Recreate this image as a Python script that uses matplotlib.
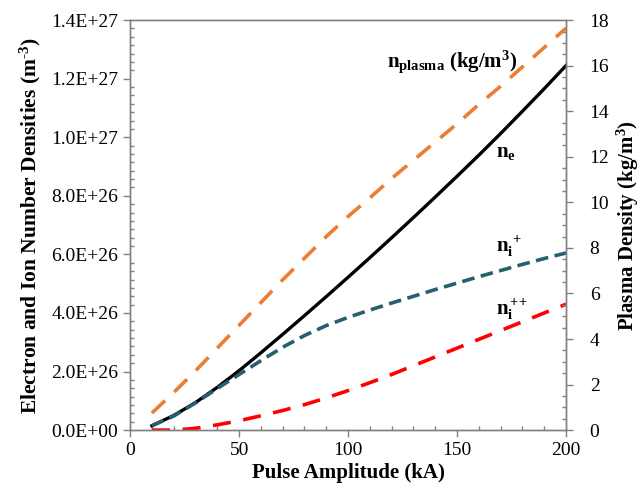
import numpy as np
from matplotlib import pyplot as plt
from matplotlib.ticker import MultipleLocator, AutoMinorLocator, FuncFormatter

plt.rcParams['font.family'] = ['Liberation Serif', 'DejaVu Serif']
plt.rcParams['mathtext.fontset'] = 'custom'
plt.rcParams['mathtext.rm'] = 'Liberation Serif:bold'
plt.rcParams['mathtext.it'] = 'Liberation Serif:bold'
plt.rcParams['mathtext.bf'] = 'Liberation Serif:bold'

# pulse amplitude (kA)
amp = [10, 20, 30, 40, 50, 60, 70, 80, 90, 100,
       110, 120, 130, 140, 150, 160, 170, 180, 190, 200]
# number densities (x1e27 m^-3)
n_e = [0.015, 0.050, 0.094, 0.146, 0.203, 0.264, 0.327, 0.391, 0.456, 0.522,
       0.589, 0.657, 0.726, 0.796, 0.867, 0.939, 1.013, 1.089, 1.166, 1.245]
n_i1 = [0.015, 0.048, 0.093, 0.142, 0.190, 0.237, 0.283, 0.323, 0.357, 0.385,
        0.410, 0.434, 0.457, 0.480, 0.502, 0.524, 0.545, 0.566, 0.586, 0.605]
n_i2 = [0.0, 0.0, 0.006, 0.018, 0.032, 0.049, 0.067, 0.087, 0.110, 0.135,
        0.162, 0.190, 0.220, 0.250, 0.280, 0.310, 0.340, 0.370, 0.400, 0.430]
# plasma density (kg/m^3)
rho = [0.75, 1.65, 2.6, 3.6, 4.6, 5.6, 6.6, 7.55, 8.5, 9.38,
       10.2, 11.05, 11.85, 12.65, 13.45, 14.3, 15.1, 15.95, 16.8, 17.65]

scale = 1e27
n_e = np.array(n_e) * scale
n_i1 = np.array(n_i1) * scale
n_i2 = np.array(n_i2) * scale

fig = plt.figure(figsize=(6.44, 4.91), dpi=100)
ax = fig.add_axes([0.202, 0.124, 0.677, 0.835])
ax2 = ax.twinx()

ax.plot(amp, n_e, color='black', lw=2.4, solid_joinstyle='round')
ax.plot(amp, n_i1, color='#25606E', lw=2.6, dashes=(3.5, 1.8))
ax.plot(amp, n_i2, color='#FF0000', lw=2.6, dashes=(5, 3.5))
ax2.plot(amp, rho, color='#ED7D31', lw=2.6, dashes=(5, 3.5))

ax.set_xlim(0, 200)
ax.set_ylim(0, 1.4e27)
ax2.set_ylim(0, 18)

ax.xaxis.set_major_locator(MultipleLocator(50))
ax.xaxis.set_minor_locator(MultipleLocator(10))
ax.yaxis.set_major_locator(MultipleLocator(2e26))
ax.yaxis.set_minor_locator(AutoMinorLocator(7))
ax.yaxis.set_major_formatter(FuncFormatter(lambda v, p: f"{v:.1E}"))
ax2.yaxis.set_major_locator(MultipleLocator(2))
ax2.yaxis.set_minor_locator(MultipleLocator(0.5))

for a in (ax, ax2):
    for s in a.spines.values():
        s.set_color('#808080')
        s.set_linewidth(1.0)
    a.tick_params(which='major', direction='out', length=5, width=1,
                  color='#808080', labelsize=14, labelcolor='black')
    a.tick_params(which='minor', direction='in', length=3, width=1,
                  color='#808080')
ax2.tick_params(axis='y', which='major', pad=12)

ax.set_xlabel('Pulse Amplitude (kA)', fontsize=15, fontweight='bold', labelpad=3)
ax.set_ylabel('Electron and Ion Number Densities (m$^{\u2010 3}$)', fontsize=15.5,
              fontweight='bold', labelpad=6)
ax2.set_ylabel(r'Plasma Density (kg/m$^{3}$)', fontsize=15, fontweight='bold',
               labelpad=4)

# curve labels
ax2.text(118, 15.93, r'$\mathrm{n_{plasma}}$ (kg/m$^{3}$)', fontsize=15,
         fontweight='bold', va='baseline', ha='left')
ax.text(168, 0.932e27, r'$\mathrm{n_e}$', fontsize=15, va='baseline', ha='left')
ax.text(168, 0.608e27, r'$\mathrm{n_i^{\,+}}$', fontsize=15, va='baseline', ha='left')
ax.text(168, 0.393e27, r'$\mathrm{n_i^{\,{+}{+}}}$', fontsize=15, va='baseline', ha='left')

fig.savefig('out.png', dpi=100)
